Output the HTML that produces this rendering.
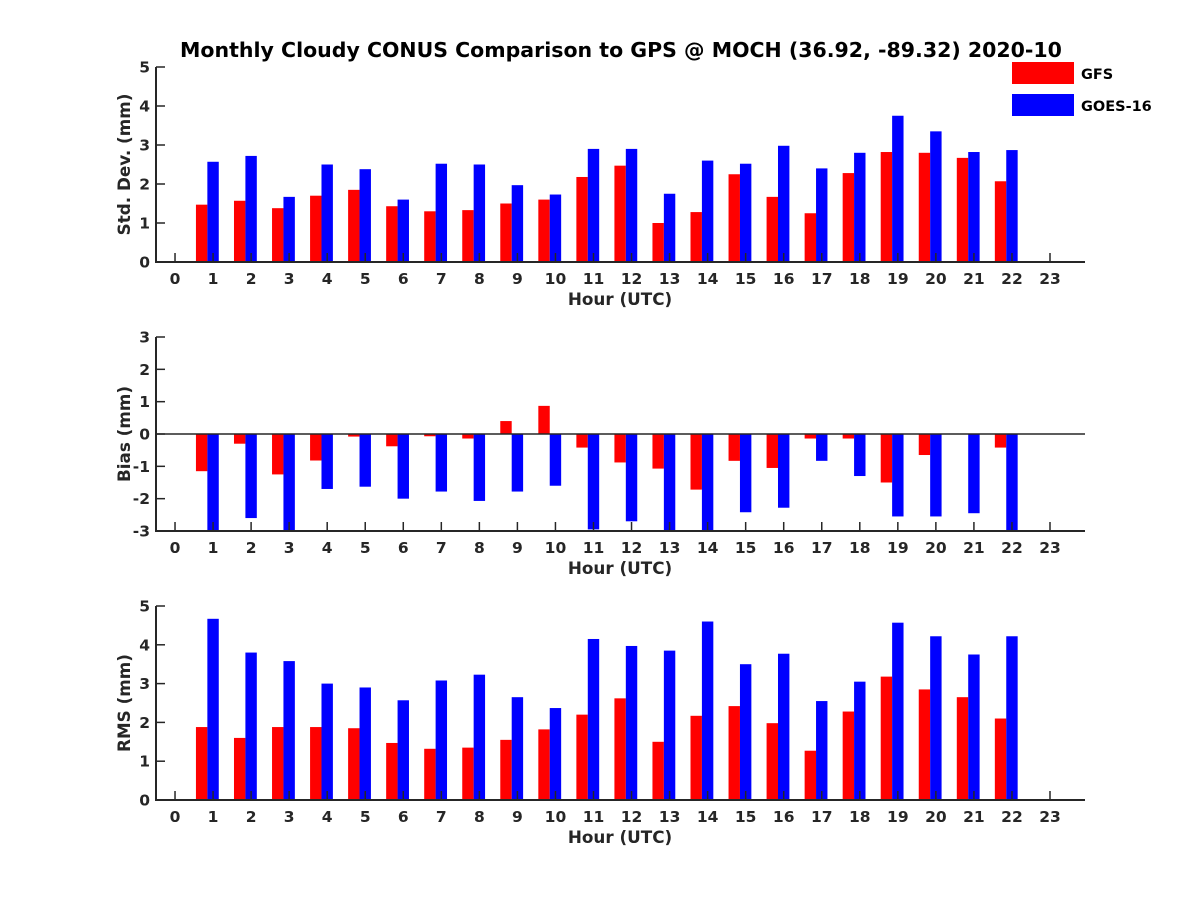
<!DOCTYPE html>
<html><head><meta charset="utf-8"><style>
body{margin:0;background:#fff}
svg{font-family:"DejaVu Sans","Liberation Sans",sans-serif;font-weight:bold}
</style></head><body>
<svg id="c" width="1200" height="900" viewBox="0 0 1200 900">
<text x="621" y="57" text-anchor="middle" font-size="20.5" fill="#000">Monthly Cloudy CONUS Comparison to GPS @ MOCH (36.92, -89.32) 2020-10</text>
<g>
<rect x="1012" y="62" width="62" height="22" fill="#f00"/>
<text x="1081" y="79" font-size="14.5">GFS</text>
<rect x="1012" y="94" width="62" height="22" fill="#00f"/>
<text x="1081" y="111" font-size="14.5">GOES-16</text>
</g>
</svg>
<script>
const hours = [1,2,3,4,5,6,7,8,9,10,11,12,13,14,15,16,17,18,19,20,21,22];
const xTicks = [0,1,2,3,4,5,6,7,8,9,10,11,12,13,14,15,16,17,18,19,20,21,22,23];
const stdGfs = [1.47,1.57,1.38,1.7,1.85,1.43,1.3,1.33,1.5,1.6,2.18,2.47,1.0,1.28,2.25,1.67,1.25,2.28,2.82,2.8,2.67,2.07];
const stdGoes = [2.57,2.72,1.67,2.5,2.38,1.6,2.52,2.5,1.97,1.73,2.9,2.9,1.75,2.6,2.52,2.98,2.4,2.8,3.75,3.35,2.82,2.87];
const biasGfs = [-1.15,-0.3,-1.25,-0.82,-0.08,-0.38,-0.07,-0.14,0.4,0.87,-0.42,-0.88,-1.07,-1.72,-0.83,-1.05,-0.14,-0.14,-1.5,-0.65,0,-0.42];
const biasGoes = [-3.2,-2.6,-3.1,-1.7,-1.63,-2.0,-1.78,-2.07,-1.78,-1.6,-2.95,-2.7,-3.2,-3.3,-2.42,-2.28,-0.83,-1.3,-2.55,-2.55,-2.45,-3.3];
const rmsGfs = [1.88,1.6,1.88,1.88,1.85,1.47,1.32,1.35,1.55,1.82,2.2,2.62,1.5,2.17,2.42,1.98,1.27,2.28,3.18,2.85,2.65,2.1];
const rmsGoes = [4.67,3.8,3.58,3.0,2.9,2.57,3.08,3.23,2.65,2.37,4.15,3.97,3.85,4.6,3.5,3.77,2.55,3.05,4.57,4.22,3.75,4.22];
const stdTicks = [0,1,2,3,4,5];
const biasTicks = [-3,-2,-1,0,1,2,3];
const rmsTicks = [0,1,2,3,4,5];

const NS="http://www.w3.org/2000/svg";
const svg=document.getElementById('c');
function mk(tag,attrs,parent){const e=document.createElementNS(NS,tag);for(const k in attrs)e.setAttribute(k,attrs[k]);(parent||svg).appendChild(e);return e;}
const X0=156,X1=1085,XMIN=-0.5,XMAX=23.92;
const xs=v=>X0+(v-XMIN)/(XMAX-XMIN)*(X1-X0);

function panel(name,top,bottom,ymin,ymax,yTicks,ylabel,gfs,goes,zeroLine){
  const g=mk('g',{});
  
  
  const ys=v=>bottom-(v-ymin)/(ymax-ymin)*(bottom-top);
  const clip=v=>Math.max(ymin,Math.min(ymax,v));
  const y0=ys(clip(0));
  hours.forEach((h,i)=>{
    [[gfs[i],'#f00',-0.45,'gfs'],[goes[i],'#00f',-0.15,'goes']].forEach(([v,c,off,s])=>{
      const yv=ys(clip(v));
      const r=mk('rect',{x:xs(h+off),y:Math.min(yv,y0),width:xs(h+off+0.3)-xs(h+off),height:Math.abs(yv-y0),fill:c},g);
      
      
    });
  });
  if(zeroLine){const z=mk('line',{x1:X0,x2:X1,y1:ys(0),y2:ys(0),stroke:'#262626','stroke-width':1.5},g);
    }
  const ax=mk('path',{d:`M${X0},${top}V${bottom}H${X1}`,fill:'none',stroke:'#262626','stroke-width':2},g);
  
  xTicks.forEach(t=>{
    mk('line',{x1:xs(t),x2:xs(t),y1:bottom,y2:bottom-9,stroke:'#262626','stroke-width':1.5},g);
    const tx=mk('text',{x:xs(t),y:bottom+22,'text-anchor':'middle','font-size':15.5,fill:'#262626'},g);
    tx.textContent=t;
    
  });
  yTicks.forEach(t=>{
    mk('line',{x1:X0,x2:X0+9,y1:ys(t),y2:ys(t),stroke:'#262626','stroke-width':1.5},g);
    const tx=mk('text',{x:X0-6,y:ys(t)+5.5,'text-anchor':'end','font-size':15.5,fill:'#262626'},g);
    tx.textContent=t;
    
  });
  const xl=mk('text',{x:620,y:bottom+43,'text-anchor':'middle','font-size':16.8,fill:'#262626'},g);
  xl.textContent='Hour (UTC)';
  
  const cy=(top+bottom)/2;
  const yl=mk('text',{x:130,y:cy,'text-anchor':'middle','font-size':16.8,fill:'#262626',transform:`rotate(-90 130 ${cy})`},g);
  yl.textContent=ylabel;
  
}
panel('std',67,262,0,5,stdTicks,'Std. Dev. (mm)',stdGfs,stdGoes,false);
panel('bias',337,531,-3,3,biasTicks,'Bias (mm)',biasGfs,biasGoes,true);
panel('rms',606,800,0,5,rmsTicks,'RMS (mm)',rmsGfs,rmsGoes,false);
</script>
</body></html>
